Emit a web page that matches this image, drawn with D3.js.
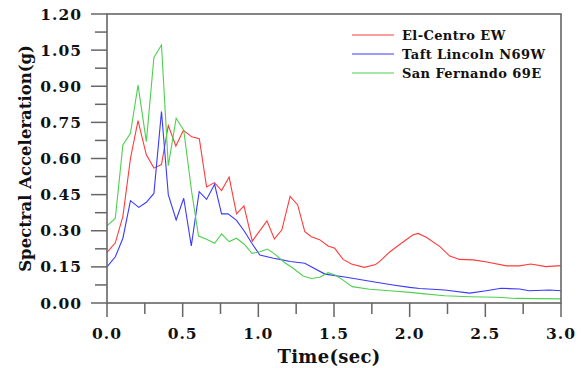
<!DOCTYPE html>
<html>
<head>
<meta charset="utf-8">
<script src="https://cdn.jsdelivr.net/npm/d3@7"></script>
<style>
  html, body { margin: 0; padding: 0; background: #fff; }
  svg { display: block; }
</style>
</head>
<body>
<div id="chart"></div>
<script>
// response spectra, [period (sec), Sa (g)]
const elCentro = [
  [0, 0.21], [0.055, 0.25], [0.105, 0.36], [0.155, 0.60], [0.205, 0.757],
  [0.26, 0.615], [0.31, 0.56], [0.36, 0.575], [0.405, 0.737], [0.455, 0.652],
  [0.505, 0.717], [0.56, 0.69], [0.61, 0.682], [0.658, 0.482], [0.71, 0.50],
  [0.757, 0.467], [0.807, 0.523], [0.856, 0.37], [0.905, 0.403], [0.96, 0.257],
  [1.057, 0.341], [1.106, 0.266], [1.155, 0.303], [1.21, 0.443], [1.26, 0.407],
  [1.307, 0.296], [1.35, 0.275], [1.405, 0.263], [1.461, 0.237], [1.505, 0.227],
  [1.56, 0.181], [1.615, 0.162], [1.70, 0.148], [1.775, 0.16], [1.80, 0.172],
  [1.87, 0.213], [1.945, 0.248], [2.02, 0.282], [2.055, 0.289], [2.11, 0.273],
  [2.20, 0.234], [2.265, 0.195], [2.33, 0.181], [2.42, 0.179], [2.51, 0.170],
  [2.64, 0.154], [2.725, 0.154], [2.80, 0.162], [2.90, 0.151], [3.0, 0.155]
];

const taftLincoln = [
  [0, 0.15], [0.055, 0.192], [0.105, 0.269], [0.155, 0.425], [0.21, 0.397],
  [0.26, 0.418], [0.31, 0.455], [0.36, 0.795], [0.405, 0.45], [0.457, 0.345],
  [0.507, 0.435], [0.557, 0.237], [0.609, 0.462], [0.658, 0.43], [0.711, 0.493],
  [0.757, 0.37], [0.80, 0.37], [0.856, 0.343], [0.91, 0.296], [0.955, 0.25],
  [1.01, 0.199], [1.10, 0.186], [1.142, 0.181], [1.21, 0.172], [1.307, 0.165],
  [1.44, 0.12], [1.582, 0.107], [1.758, 0.088], [1.89, 0.075], [2.0, 0.065],
  [2.066, 0.06], [2.231, 0.054], [2.396, 0.041], [2.506, 0.051], [2.605, 0.061],
  [2.726, 0.058], [2.79, 0.051], [2.924, 0.054], [3.0, 0.051]
];

const sanFernando = [
  [0, 0.32], [0.055, 0.352], [0.105, 0.656], [0.155, 0.705], [0.205, 0.905],
  [0.26, 0.67], [0.31, 1.02], [0.36, 1.071], [0.405, 0.57], [0.457, 0.767],
  [0.507, 0.718], [0.56, 0.46], [0.605, 0.278], [0.658, 0.265], [0.711, 0.248],
  [0.757, 0.287], [0.807, 0.255], [0.856, 0.269], [0.905, 0.245], [0.958, 0.206],
  [1.01, 0.213], [1.06, 0.224], [1.109, 0.203], [1.175, 0.167], [1.23, 0.144],
  [1.296, 0.112], [1.351, 0.102], [1.406, 0.107], [1.461, 0.126], [1.51, 0.115],
  [1.56, 0.095], [1.62, 0.068], [1.736, 0.057], [1.868, 0.051], [2.022, 0.043],
  [2.066, 0.040], [2.231, 0.030], [2.396, 0.026], [2.572, 0.024], [2.704, 0.019],
  [3.0, 0.017]
];

const seriesNames = ["El-Centro EW", "Taft Lincoln N69W", "San Fernando 69E"];
const seriesColors = ["#ff3b3b", "#3a3aff", "#4fcf4f"];
const seriesData = [elCentro, taftLincoln, sanFernando];

const xTickValues = [0, 0.5, 1.0, 1.5, 2.0, 2.5, 3.0];
const yTickValues = [0, 0.15, 0.30, 0.45, 0.60, 0.75, 0.90, 1.05, 1.20];

const W = 581, H = 368;
const MARGIN = { top: 14, right: 20, bottom: 65, left: 107 };
const FONT = "'DejaVu Serif', serif";
const AXIS_COLOR = "#666";

const svg = d3.select("#chart").append("svg")
  .attr("width", W)
  .attr("height", H);

const x = d3.scaleLinear().domain([0, 3]).range([MARGIN.left, W - MARGIN.right]);
const y = d3.scaleLinear().domain([0, 1.2]).range([H - MARGIN.bottom, MARGIN.top]);

const x0 = x.range()[0], x1 = x.range()[1];
const y0 = y.range()[0], y1 = y.range()[1];

// minor ticks every half step, drawn outside the frame
const yMinor = d3.range(0, 1.2001, 0.075);
const xMinor = d3.range(0, 3.0001, 0.25);

svg.append("g").selectAll("line")
  .data(yMinor)
  .join("line")
  .attr("x1", (d, i) => x0 - (i % 2 === 0 ? 16 : 12))
  .attr("x2", x0)
  .attr("y1", d => y(d)).attr("y2", d => y(d))
  .attr("stroke", AXIS_COLOR)
  .attr("stroke-width", 1.5);

svg.append("g").selectAll("line")
  .data(xMinor)
  .join("line")
  .attr("x1", d => x(d)).attr("x2", d => x(d))
  .attr("y1", y0)
  .attr("y2", (d, i) => y0 + (i % 2 === 0 ? 14 : 11))
  .attr("stroke", AXIS_COLOR)
  .attr("stroke-width", 1.5);

// curves
const line = d3.line()
  .x(d => x(d[0]))
  .y(d => y(d[1]));

svg.append("g")
  .selectAll("path")
  .data(seriesData)
  .join("path")
  .attr("d", line)
  .attr("fill", "none")
  .attr("stroke", (d, i) => seriesColors[i])
  .attr("stroke-width", 1.1);

// frame
svg.append("rect")
  .attr("x", x0).attr("y", y1)
  .attr("width", x1 - x0).attr("height", y0 - y1)
  .attr("fill", "none")
  .attr("stroke", AXIS_COLOR)
  .attr("stroke-width", 1.6);

// tick labels
svg.append("g").selectAll("text")
  .data(yTickValues)
  .join("text")
  .attr("x", x0 - 25)
  .attr("y", d => y(d))
  .attr("dy", "0.36em")
  .attr("text-anchor", "end")
  .attr("font-family", FONT)
  .attr("font-weight", "bold")
  .attr("font-size", "15.5px")
  .attr("letter-spacing", "1px")
  .attr("fill", "#111")
  .text(d => d.toFixed(2));

svg.append("g").selectAll("text")
  .data(xTickValues)
  .join("text")
  .attr("x", d => x(d))
  .attr("y", y0 + 36)
  .attr("text-anchor", "middle")
  .attr("font-family", FONT)
  .attr("font-weight", "bold")
  .attr("font-size", "15.5px")
  .attr("letter-spacing", "1px")
  .attr("fill", "#111")
  .text(d => d.toFixed(1));

// axis titles
svg.append("text")
  .attr("x", (x0 + x1) / 2 - 5)
  .attr("y", 363)
  .attr("text-anchor", "middle")
  .attr("font-family", FONT)
  .attr("font-weight", "bold")
  .attr("font-size", "18px")
  .attr("letter-spacing", "0.3px")
  .attr("fill", "#111")
  .text("Time(sec)");

svg.append("text")
  .attr("transform", `translate(31,${(y0 + y1) / 2}) rotate(-90)`)
  .attr("text-anchor", "middle")
  .attr("font-family", FONT)
  .attr("font-weight", "bold")
  .attr("font-size", "16.5px")
  .attr("fill", "#111")
  .text("Spectral Acceleration(g)");

// legend
const legend = svg.append("g")
  .attr("transform", "translate(352,35)");

seriesNames.forEach((name, i) => {
  const row = legend.append("g").attr("transform", `translate(0,${i * 19})`);
  row.append("line")
    .attr("x1", 0).attr("x2", 42)
    .attr("stroke", seriesColors[i])
    .attr("stroke-width", 1.2);
  row.append("text")
    .attr("x", 50)
    .attr("dy", "0.35em")
    .attr("font-family", FONT)
    .attr("font-weight", "bold")
    .attr("font-size", "13px")
    .attr("letter-spacing", "0.4px")
    .attr("fill", "#111")
    .text(name);
});
</script>
</body>
</html>
